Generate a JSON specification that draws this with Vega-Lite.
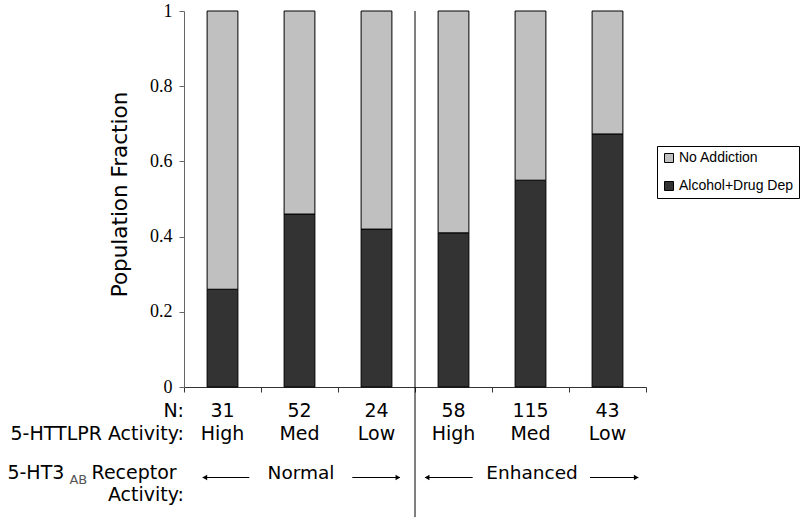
{
  "$schema": "https://vega.github.io/schema/vega-lite/v6.json",
  "width": 462,
  "height": 376,
  "autosize": "none",
  "padding": {"left": 184, "top": 11, "right": 154, "bottom": 137},
  "background": "white",
  "config": {
    "view": {"stroke": null},
    "font": "DejaVu Sans",
    "text": {"font": "DejaVu Sans", "color": "black"}
  },
  "datasets": {
    "bars": [
      {"cond": "Normal-High", "group": "Normal", "N": "31", "activity": "High", "outcome": "Alcohol+Drug Dep", "fraction": 0.26},
      {"cond": "Normal-High", "group": "Normal", "N": "31", "activity": "High", "outcome": "No Addiction", "fraction": 0.74},
      {"cond": "Normal-Med", "group": "Normal", "N": "52", "activity": "Med", "outcome": "Alcohol+Drug Dep", "fraction": 0.46},
      {"cond": "Normal-Med", "group": "Normal", "N": "52", "activity": "Med", "outcome": "No Addiction", "fraction": 0.54},
      {"cond": "Normal-Low", "group": "Normal", "N": "24", "activity": "Low", "outcome": "Alcohol+Drug Dep", "fraction": 0.42},
      {"cond": "Normal-Low", "group": "Normal", "N": "24", "activity": "Low", "outcome": "No Addiction", "fraction": 0.58},
      {"cond": "Enhanced-High", "group": "Enhanced", "N": "58", "activity": "High", "outcome": "Alcohol+Drug Dep", "fraction": 0.41},
      {"cond": "Enhanced-High", "group": "Enhanced", "N": "58", "activity": "High", "outcome": "No Addiction", "fraction": 0.59},
      {"cond": "Enhanced-Med", "group": "Enhanced", "N": "115", "activity": "Med", "outcome": "Alcohol+Drug Dep", "fraction": 0.55},
      {"cond": "Enhanced-Med", "group": "Enhanced", "N": "115", "activity": "Med", "outcome": "No Addiction", "fraction": 0.45},
      {"cond": "Enhanced-Low", "group": "Enhanced", "N": "43", "activity": "Low", "outcome": "Alcohol+Drug Dep", "fraction": 0.673},
      {"cond": "Enhanced-Low", "group": "Enhanced", "N": "43", "activity": "Low", "outcome": "No Addiction", "fraction": 0.327}
    ]
  },
  "layer": [
    {
      "data": {"name": "bars"},
      "layer": [
        {
          "mark": {"type": "bar", "width": {"band": 0.4}, "stroke": "#000000", "strokeWidth": 1},
          "encoding": {
            "x": {
              "field": "cond", "type": "nominal", "sort": null,
              "scale": {"paddingInner": 0, "paddingOuter": 0},
              "axis": {"labels": false, "title": null, "tickBand": "extent", "tickSize": 5, "domainColor": "#333333", "tickColor": "#333333"}
            },
            "y": {
              "field": "fraction", "type": "quantitative", "stack": "zero",
              "scale": {"domain": [0, 1], "nice": false, "zero": true},
              "axis": {
                "values": [0, 0.2, 0.4, 0.6, 0.8, 1], "format": "~g", "grid": false,
                "title": "Population Fraction", "titleFont": "DejaVu Sans", "titleFontSize": 21.5, "titleFontWeight": "normal", "titleColor": "black", "titlePadding": 18, "titleY": 183,
                "labelFont": "Liberation Sans Narrow", "labelFontSize": 18, "labelColor": "black", "labelPadding": 7,
                "tickSize": 5, "domainColor": "#666666", "tickColor": "#666666"
              }
            },
            "color": {
              "field": "outcome", "type": "nominal",
              "scale": {"domain": ["No Addiction", "Alcohol+Drug Dep"], "range": ["#c0c0c0", "#333333"]},
              "legend": {
                "title": null, "orient": "none", "legendX": 473, "legendY": 135,
                "strokeColor": "#000000", "fillColor": "white", "padding": 5, "rowPadding": 14,
                "symbolType": "square", "symbolSize": 81, "symbolStrokeColor": "#000000", "symbolStrokeWidth": 1,
                "labelFont": "Liberation Sans", "labelFontSize": 14, "labelColor": "black", "labelOffset": 3
              }
            },
            "order": {"field": "outcome", "sort": "ascending"}
          }
        },
        {
          "transform": [{"filter": "datum.outcome === 'No Addiction'"}],
          "mark": {"type": "text", "fontSize": 19, "baseline": "alphabetic", "align": "center"},
          "encoding": {
            "x": {"field": "cond", "type": "nominal", "sort": null},
            "y": {"datum": -0.0785, "type": "quantitative", "scale": {"domain": [0, 1], "nice": false}},
            "text": {"field": "N"}
          }
        },
        {
          "transform": [{"filter": "datum.outcome === 'No Addiction'"}],
          "mark": {"type": "text", "fontSize": 19, "baseline": "alphabetic", "align": "center"},
          "encoding": {
            "x": {"field": "cond", "type": "nominal", "sort": null},
            "y": {"datum": -0.1410, "type": "quantitative", "scale": {"domain": [0, 1], "nice": false}},
            "text": {"field": "activity"}
          }
        }
      ]
    },
    {
      "data": {"values": [{}]},
      "layer": [
        {
          "mark": {"type": "rule", "color": "#000000", "strokeWidth": 1},
          "encoding": {
            "x": {"datum": 3, "type": "quantitative", "scale": {"domain": [0, 6], "nice": false, "zero": false}, "axis": null},
            "y": {"datum": 1, "type": "quantitative", "scale": {"domain": [0, 1], "nice": false}},
            "y2": {"datum": -0.346}
          }
        },
        {
          "mark": {"type": "text", "fontSize": 19, "baseline": "alphabetic", "align": "right"},
          "encoding": {
            "x": {"datum": 0, "type": "quantitative", "axis": null},
            "y": {"datum": -0.0785, "type": "quantitative"},
            "text": {"value": "N:"}
          }
        },
        {
          "mark": {"type": "text", "fontSize": 19, "baseline": "alphabetic", "align": "right"},
          "encoding": {
            "x": {"datum": 0, "type": "quantitative", "axis": null},
            "y": {"datum": -0.1410, "type": "quantitative"},
            "text": {"value": "5-HTTLPR Activity:"}
          }
        },
        {
          "mark": {"type": "text", "fontSize": 19, "baseline": "alphabetic", "align": "right"},
          "encoding": {
            "x": {"datum": -0.095, "type": "quantitative", "axis": null},
            "y": {"datum": -0.2447, "type": "quantitative"},
            "text": {"value": "Receptor"}
          }
        },
        {
          "mark": {"type": "text", "fontSize": 13, "baseline": "alphabetic", "align": "right", "color": "#555555"},
          "encoding": {
            "x": {"datum": -1.256, "type": "quantitative", "axis": null},
            "y": {"datum": -0.2580, "type": "quantitative"},
            "text": {"value": "AB"}
          }
        },
        {
          "mark": {"type": "text", "fontSize": 19, "baseline": "alphabetic", "align": "right"},
          "encoding": {
            "x": {"datum": -1.554, "type": "quantitative", "axis": null},
            "y": {"datum": -0.2447, "type": "quantitative"},
            "text": {"value": "5-HT3"}
          }
        },
        {
          "mark": {"type": "text", "fontSize": 19, "baseline": "alphabetic", "align": "right"},
          "encoding": {
            "x": {"datum": 0, "type": "quantitative", "axis": null},
            "y": {"datum": -0.3030, "type": "quantitative"},
            "text": {"value": "Activity:"}
          }
        },
        {
          "mark": {"type": "text", "fontSize": 18.5, "baseline": "alphabetic", "align": "center"},
          "encoding": {
            "x": {"datum": 1.52, "type": "quantitative", "axis": null},
            "y": {"datum": -0.2447, "type": "quantitative"},
            "text": {"value": "Normal"}
          }
        },
        {
          "mark": {"type": "text", "fontSize": 18.5, "baseline": "alphabetic", "align": "center"},
          "encoding": {
            "x": {"datum": 4.52, "type": "quantitative", "axis": null},
            "y": {"datum": -0.2447, "type": "quantitative"},
            "text": {"value": "Enhanced"}
          }
        },
        {
          "mark": {"type": "rule", "color": "#000000", "strokeWidth": 1},
          "encoding": {
            "x": {"datum": 0.243, "type": "quantitative", "axis": null}, "x2": {"datum": 0.848},
            "y": {"datum": -0.2407, "type": "quantitative"}
          }
        },
        {
          "mark": {"type": "rule", "color": "#000000", "strokeWidth": 1},
          "encoding": {
            "x": {"datum": 2.186, "type": "quantitative", "axis": null}, "x2": {"datum": 2.805},
            "y": {"datum": -0.2407, "type": "quantitative"}
          }
        },
        {
          "mark": {"type": "rule", "color": "#000000", "strokeWidth": 1},
          "encoding": {
            "x": {"datum": 3.13, "type": "quantitative", "axis": null}, "x2": {"datum": 3.749},
            "y": {"datum": -0.2407, "type": "quantitative"}
          }
        },
        {
          "mark": {"type": "rule", "color": "#000000", "strokeWidth": 1},
          "encoding": {
            "x": {"datum": 5.273, "type": "quantitative", "axis": null}, "x2": {"datum": 5.9},
            "y": {"datum": -0.2407, "type": "quantitative"}
          }
        },
        {
          "mark": {"type": "point", "shape": "triangle-left", "filled": true, "color": "#000000", "size": 30, "opacity": 1},
          "encoding": {
            "x": {"datum": 0.27, "type": "quantitative", "axis": null},
            "y": {"datum": -0.2407, "type": "quantitative"}
          }
        },
        {
          "mark": {"type": "point", "shape": "triangle-right", "filled": true, "color": "#000000", "size": 30, "opacity": 1},
          "encoding": {
            "x": {"datum": 2.778, "type": "quantitative", "axis": null},
            "y": {"datum": -0.2407, "type": "quantitative"}
          }
        },
        {
          "mark": {"type": "point", "shape": "triangle-left", "filled": true, "color": "#000000", "size": 30, "opacity": 1},
          "encoding": {
            "x": {"datum": 3.157, "type": "quantitative", "axis": null},
            "y": {"datum": -0.2407, "type": "quantitative"}
          }
        },
        {
          "mark": {"type": "point", "shape": "triangle-right", "filled": true, "color": "#000000", "size": 30, "opacity": 1},
          "encoding": {
            "x": {"datum": 5.873, "type": "quantitative", "axis": null},
            "y": {"datum": -0.2407, "type": "quantitative"}
          }
        }
      ]
    }
  ],
  "resolve": {"scale": {"x": "independent"}}
}
